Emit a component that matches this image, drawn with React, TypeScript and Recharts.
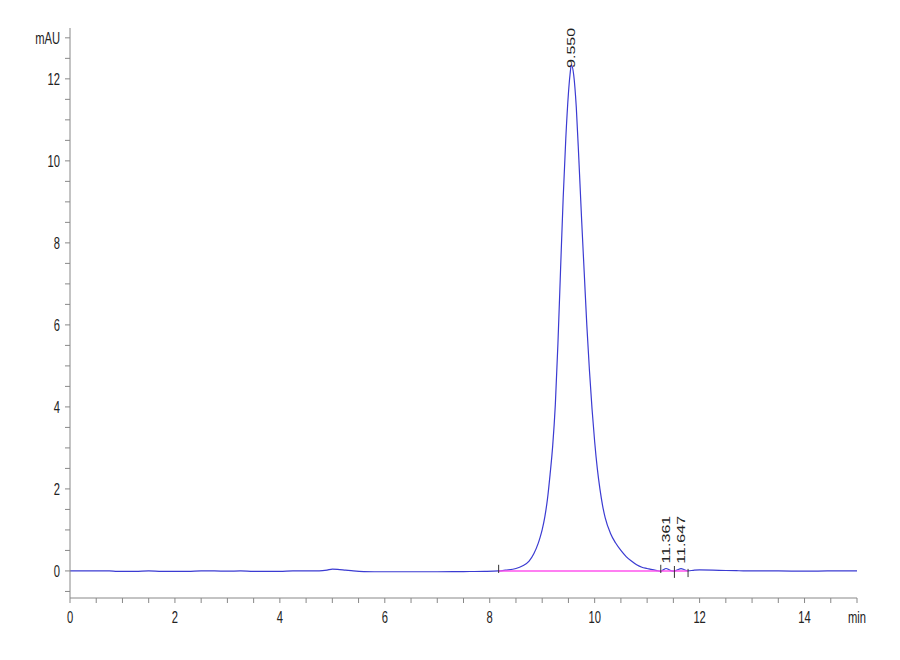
import { ComposedChart, Line, Scatter, XAxis, YAxis, ReferenceLine } from 'recharts';

// retention time (min) / absorbance (mAU)
const earlyTrace: [number, number][] = [
  [0, 0], [0.25, 0], [0.5, 0], [0.75, 0], [0.9, -0.01], [1.25, -0.01], [1.5, 0], [1.75, -0.01],
  [2, -0.01], [2.25, -0.01], [2.5, 0], [2.75, 0], [3, -0.005], [3.25, 0], [3.5, -0.01], [3.75, -0.01],
  [4, -0.01], [4.25, 0], [4.5, 0], [4.75, 0], [4.9, 0.02], [5.0, 0.045], [5.1, 0.04], [5.25, 0.02],
  [5.4, 0], [5.6, -0.015], [6, -0.02], [6.5, -0.02], [7, -0.02], [7.5, -0.015], [7.9, -0.01], [8.17, 0],
];

const mainPeak: [number, number][] = [
  [8.3, 0.02], [8.5, 0.06], [8.62, 0.12], [8.75, 0.24], [8.84, 0.42], [8.92, 0.66], [8.96, 0.82],
  [9.0, 1.01], [9.05, 1.32], [9.1, 1.75], [9.15, 2.35], [9.2, 3.05], [9.25, 4.05], [9.3, 5.55],
  [9.35, 7.35], [9.4, 9.1], [9.45, 10.55], [9.5, 11.65], [9.53, 12.1], [9.555, 12.34], [9.6, 12.1],
  [9.65, 11.3], [9.7, 10.0], [9.75, 8.6], [9.8, 7.3], [9.85, 6.0], [9.9, 4.9], [9.95, 3.95],
  [10.0, 3.15], [10.05, 2.5], [10.1, 2.0], [10.15, 1.6], [10.2, 1.3], [10.3, 0.92], [10.4, 0.68],
  [10.5, 0.5], [10.6, 0.35], [10.7, 0.24], [10.8, 0.15], [10.9, 0.09], [11.0, 0.06],
  [11.1, 0.03], [11.2, 0.005], [11.26, -0.01],
];

const lateTrace: [number, number][] = [
  [11.3, 0.02], [11.361, 0.06], [11.42, 0.03], [11.47, 0], [11.52, -0.005], [11.58, 0.03],
  [11.647, 0.055], [11.71, 0.03], [11.78, 0], [11.9, 0.02], [12, 0.025], [12.25, 0.02], [12.5, 0.01],
  [12.75, 0.005], [13, 0], [13.5, 0], [14, -0.005], [14.5, 0], [15, 0],
];

const integrationBaseline: [number, number][] = [[8.17, 0], [11.78, 0]];

// peak start/end markers: time, low, high
const boundaries: [number, number, number][] = [
  [8.17, -0.05, 0.15], [11.26, -0.05, 0.15], [11.52, -0.17, 0.12], [11.78, -0.15, 0.05],
];

const peaks = [
  { t: 9.55, v: 12.34, label: '9.550' },
  { t: 11.361, v: 0.06, label: '11.361' },
  { t: 11.647, v: 0.055, label: '11.647' },
];

const xTicks = Array.from({ length: 31 }, (_, i) => i * 0.5);
const yTicks = Array.from({ length: 28 }, (_, i) => -0.5 + i * 0.5);

const toRows = (pts: [number, number][]) => pts.map(([t, v]) => ({ t, v }));
const trace = toRows([...earlyTrace, ...mainPeak, ...lateTrace]);
const pinkRows = toRows(integrationBaseline);

const FONT = '"Liberation Sans", Arial, sans-serif';

const XTick = (props: any) => {
  const { x, y, payload } = props;
  const val = payload.value;
  let label = '';
  if (Math.abs(val - 15) < 1e-6) label = 'min';
  else if (Math.abs(val % 2) < 1e-6) label = String(val);
  if (!label) return null;
  return (
    <g transform={`translate(${x},${y}) scale(0.7,1)`}>
      <text x={0} y={0} dy="0.71em" textAnchor="middle" fontSize={16} fontFamily={FONT} fill="#222">
        {label}
      </text>
    </g>
  );
};

const YTick = (props: any) => {
  const { x, y, payload } = props;
  const val = payload.value;
  let label = '';
  if (Math.abs(val - 13) < 1e-6) label = 'mAU';
  else if (val >= 0 && Math.abs(val % 2) < 1e-6) label = String(val);
  if (!label) return null;
  return (
    <g transform={`translate(${x},${y}) scale(0.7,1)`}>
      <text x={0} y={0} dy="0.36em" textAnchor="end" fontSize={16} fontFamily={FONT} fill="#222">
        {label}
      </text>
    </g>
  );
};

const PeakLabel = (props: any) => {
  const { cx, cy, payload } = props;
  // big peak label sits on the apex, small ones just above the bumps
  const y0 = payload.v > 1 ? cy + 3 : cy - 5;
  return (
    <g transform={`translate(${cx},${y0}) rotate(-90) scale(1,0.7)`}>
      <text x={0} y={0} dy="0.36em" textAnchor="start" fontSize={16} fontFamily={FONT} fill="#222">
        {payload.label}
      </text>
    </g>
  );
};

export default function App() {
  return (
    <div style={{ position: 'absolute', left: 0, top: 0, width: 900, height: 660, background: '#fff' }}>
      <ComposedChart width={900} height={660} margin={{ top: 28, right: 43, left: 10, bottom: 32 }}>
        <XAxis
          dataKey="t"
          type="number"
          domain={[0, 15]}
          ticks={xTicks}
          interval={0}
          tick={<XTick />}
          tickSize={5}
          tickMargin={9}
          height={30}
          stroke="#888"
        />
        <YAxis
          type="number"
          domain={[-0.66, 13.24]}
          ticks={yTicks}
          interval={0}
          tick={<YTick />}
          tickSize={5}
          tickMargin={5}
          width={60}
          stroke="#888"
        />
        <Line
          data={trace}
          dataKey="v"
          type="monotone"
          stroke="#3b3bd2"
          strokeWidth={1.2}
          dot={false}
          isAnimationActive={false}
        />
        <Line
          data={pinkRows}
          dataKey="v"
          type="linear"
          stroke="#ff55ee"
          strokeWidth={1.5}
          dot={false}
          isAnimationActive={false}
        />
        {boundaries.map(([t, lo, hi]) => (
          <ReferenceLine
            key={t}
            segment={[{ x: t, y: lo }, { x: t, y: hi }]}
            stroke="#333"
            strokeWidth={1}
          />
        ))}
        <Scatter data={peaks} dataKey="v" shape={<PeakLabel />} isAnimationActive={false} />
      </ComposedChart>
    </div>
  );
}
